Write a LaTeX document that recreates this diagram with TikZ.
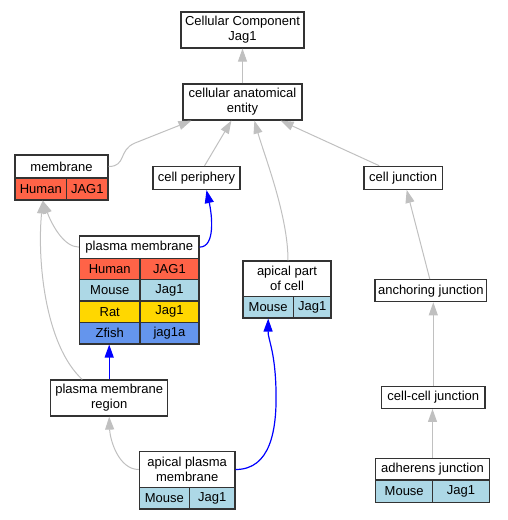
\documentclass[tikz,border=0pt]{standalone}
\usepackage{fontspec}
\setmainfont{Liberation Sans}
\usetikzlibrary{arrows.meta}
\definecolor{human}{HTML}{FF6347}
\definecolor{mouse}{HTML}{ADD8E6}
\definecolor{rat}{HTML}{FFD700}
\definecolor{zfish}{HTML}{6495ED}
\definecolor{edgegray}{HTML}{C0C0C0}
\definecolor{border}{HTML}{333333}
\begin{document}
\begin{tikzpicture}[x=1pt,y=-1pt,
  cell/.style={draw=border, line width=1.2pt, inner sep=0pt, align=center,
    font=\fontsize{13}{15}\selectfont, fill=white},
  isa/.style={draw=edgegray, line width=1pt, -{Triangle[length=13pt,width=9pt,fill=edgegray]}},
  part/.style={draw=blue, line width=1.2pt, -{Triangle[length=13pt,width=9pt,fill=blue]}}]
\useasboundingbox (0,0) rectangle (507,520);
% nodes
\node[cell, minimum width=123pt, minimum height=36pt] (top) at (242.5,30) {Cellular Component\\Jag1};
\node[cell, minimum width=119pt, minimum height=36pt] (cae) at (242.5,102) {cellular anatomical\\entity};
\node[cell, minimum width=93pt, minimum height=23pt] (memh) at (61.5,166.5) {membrane};
\node[cell, fill=human, minimum width=51.7pt, minimum height=22pt] (memHuman) at (40.8,189) {Human};
\node[cell, fill=human, minimum width=41.3pt, minimum height=22pt] (memJAG) at (87.3,189) {JAG1};
\node[cell, minimum width=87pt, minimum height=23pt] (cp) at (196.5,178) {cell periphery};
\node[cell, minimum width=78.3pt, minimum height=23pt] (cj) at (403.2,177.8) {cell junction};
\node[cell, minimum width=119.5pt, minimum height=22.3pt] (pmh) at (139.25,247.1) {plasma membrane};
\node[cell, fill=human, minimum width=60.5pt, minimum height=21pt] (pmHuman) at (109.75,268.8) {Human};
\node[cell, fill=human, minimum width=59pt, minimum height=21pt] (pmJAG) at (169.5,268.8) {JAG1};
\node[cell, fill=mouse, minimum width=60.5pt, minimum height=21.7pt] (pmMouse) at (109.75,290.2) {Mouse};
\node[cell, fill=mouse, minimum width=59pt, minimum height=21.7pt] (pmJagM) at (169.5,290.2) {Jag1};
\node[cell, fill=rat, minimum width=60.5pt, minimum height=21.7pt] (pmRat) at (109.75,311.8) {Rat};
\node[cell, fill=rat, minimum width=59pt, minimum height=21.7pt] (pmJagR) at (169.5,311.8) {Jag1};
\node[cell, fill=zfish, minimum width=60.5pt, minimum height=21.3pt] (pmZ) at (109.75,333.3) {Zfish};
\node[cell, fill=zfish, minimum width=59pt, minimum height=21.3pt] (pmJagZ) at (169.5,333.3) {jag1a};
\node[cell, minimum width=88pt, minimum height=35.7pt] (apch) at (287,278.8) {apical part\\of cell};
\node[cell, fill=mouse, minimum width=50.3pt, minimum height=21.3pt] (apcMouse) at (268.2,307.3) {Mouse};
\node[cell, fill=mouse, minimum width=37.7pt, minimum height=21.3pt] (apcJag) at (312.2,307.3) {Jag1};
\node[cell, minimum width=111.7pt, minimum height=22pt] (aj) at (430.8,290.7) {anchoring junction};
\node[cell, minimum width=117pt, minimum height=36pt] (pmr) at (109.2,398) {plasma membrane\\region};
\node[cell, minimum width=103.3pt, minimum height=21.7pt] (ccj) at (433.3,397.5) {cell-cell junction};
\node[cell, minimum width=95.7pt, minimum height=35.6pt] (aph) at (187.2,469.5) {apical plasma\\membrane};
\node[cell, fill=mouse, minimum width=50pt, minimum height=21.7pt] (aphMouse) at (164.3,498.2) {Mouse};
\node[cell, fill=mouse, minimum width=45.7pt, minimum height=21.7pt] (aphJag) at (212.2,498.2) {Jag1};
\node[cell, minimum width=113.6pt, minimum height=21.7pt] (adhh) at (432.5,469.2) {adherens junction};
\node[cell, fill=mouse, minimum width=57pt, minimum height=22.3pt] (adhMouse) at (404.2,491.2) {Mouse};
\node[cell, fill=mouse, minimum width=56.6pt, minimum height=22.3pt] (adhJag) at (461,491.2) {Jag1};
% edges
\draw[isa] (cae.north) -- (top.south);
\draw[isa] (memh.east) .. controls +(18,0) and (118,150) .. (135,143) -- ([xshift=9pt]cae.south west);
\draw[isa] ([xshift=8pt]cp.north) -- ([xshift=49pt]cae.south west);
\draw[isa] ([xshift=1pt]apch.north) .. controls +(0,-45) and +(10,35) .. ([xshift=72pt]cae.south west);
\draw[isa] ([xshift=-24pt]cj.north) -- ([xshift=-22pt]cae.south east);
\draw[isa] (pmh.west) .. controls +(-15,0) and (52,225) .. ([xshift=2pt]memHuman.south);
\draw[part] (pmh.east) .. controls +(16,0) and (212,215) .. ([xshift=10pt]cp.south);
\draw[isa] ([xshift=-27pt]pmr.north) .. controls (45,345) and (37,260) .. ([xshift=2pt]memHuman.south);
\draw[part] (pmr.north) -- (pmr.north |- pmZ.south);
\draw[isa] (aph.west) .. controls +(-20,0) and (110,440) .. (pmr.south);
\draw[part] (aph.east) .. controls +(35,0) and (277,430) .. (276,390) .. controls (275,350) and (268,340) .. (apcMouse.south);
\draw[isa] ([xshift=-1pt]aj.north) -- ([xshift=3.5pt]cj.south);
\draw[isa] (ccj.north) -- (ccj.north |- aj.south);
\draw[isa] (adhh.north) -- (adhh.north |- ccj.south);
\end{tikzpicture}
\end{document}
